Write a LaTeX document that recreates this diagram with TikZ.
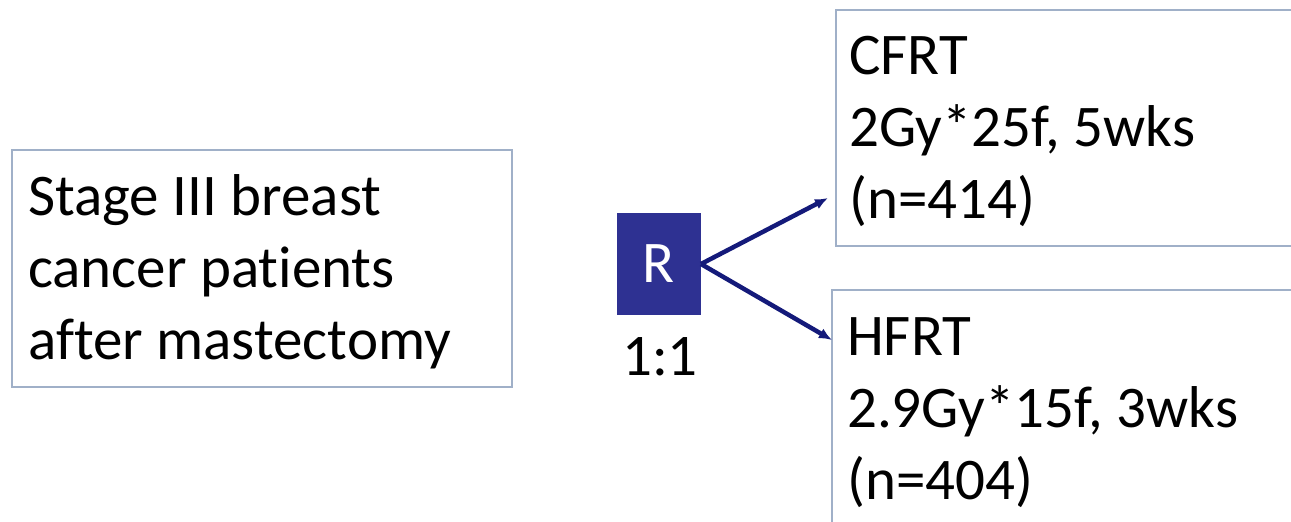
\documentclass[tikz,border=0pt]{standalone}
\usepackage{fontspec}
\setmainfont{Carlito}[Ligatures={NoCommon}]
\usetikzlibrary{arrows.meta}
\definecolor{boxline}{RGB}{160,176,200}
\definecolor{rfill}{RGB}{46,49,146}
\definecolor{arrowc}{RGB}{20,26,122}
\begin{document}
\begin{tikzpicture}[x=1pt,y=-1pt,
  frame/.style={draw=boxline, line width=2pt, rectangle, inner sep=0pt, outer sep=0pt, anchor=north west},
  txt/.style={anchor=north west, inner sep=0pt, align=left, font=\fontsize{59}{72}\selectfont},
  conn/.style={draw=arrowc, line width=4.5pt, -{Latex[length=13pt,width=11pt]}}]
\useasboundingbox (0,0) rectangle (1291,522);
\clip (0,0) rectangle (1291,522);
\fill[white] (0,0) rectangle (1291,522);
% boxes
\node[frame, minimum width=500pt, minimum height=237pt] (pbox) at (12,150) {};
\node[txt] (ptext) at (28,165) {\rule{0pt}{50pt}Stage III breast\\cancer patients\\after mastectomy};
\node[frame, minimum width=470pt, minimum height=236pt] (cbox) at (836,10) {};
\node[txt] (ctext) at (849,24) {\rule{0pt}{50pt}CFRT\\2Gy*25f, 5wks\\(n=414)};
\node[frame, minimum width=475pt, minimum height=260pt] (hbox) at (832,290) {};
\node[txt] (htext) at (847,305) {\rule{0pt}{50pt}HFRT\\2.9Gy*15f, 3wks\\(n=404)};
% randomisation
\node[fill=rfill, minimum width=84pt, minimum height=102pt, inner sep=0pt, outer sep=0pt, text=white, font=\fontsize{59}{72}\selectfont] (R) at (659,264) {R};
\node[anchor=base, inner sep=0pt, font=\fontsize{59}{72}\selectfont] (ratio) at (660,375) {1:1};
% connectors
\coordinate (cend) at (828,198);
\coordinate (hend) at (832,340);
\draw[conn] (R.east) -- (cend);
\draw[conn] (R.east) -- (hend);
\end{tikzpicture}
\end{document}
